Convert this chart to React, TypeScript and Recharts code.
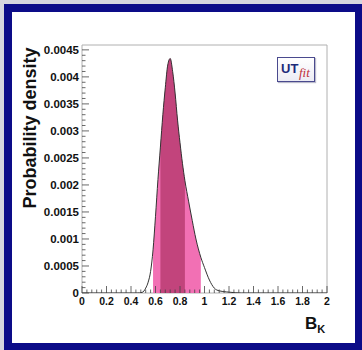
import React from "react";
import { ComposedChart, Area, Line, XAxis, YAxis, ReferenceArea } from "recharts";

// B_K values and probability density
const bkValues = [0, 0.45, 0.49, 0.52, 0.54, 0.56, 0.58, 0.6, 0.62, 0.64, 0.66, 0.68, 0.7, 0.72, 0.74, 0.76, 0.78, 0.8, 0.82, 0.84, 0.87, 0.9, 0.93, 0.97, 1.0, 1.04, 1.08, 1.12, 1.18, 1.25, 1.3, 2];
const density = [0, 0, 0.00001, 0.00009, 0.0002, 0.0004, 0.0008, 0.00142, 0.0021, 0.0027, 0.0033, 0.0038, 0.00422, 0.00434, 0.0041, 0.0037, 0.0032, 0.00278, 0.0024, 0.00208, 0.0017, 0.00134, 0.001, 0.00066, 0.00047, 0.00024, 0.00009, 0.00004, 0.00002, 0.000005, 0, 0];

// 95% (light) and 68% (dark) intervals
const lightBand = [0.58, 0.97];
const darkBand = [0.64, 0.84];

const xMajorTicks = [0, 0.2, 0.4, 0.6, 0.8, 1, 1.2, 1.4, 1.6, 1.8, 2];
const xTickLabels = ["0", "0.2", "0.4", "0.6", "0.8", "1", "1.2", "1.4", "1.6", "1.8", "2"];
const yMajorTicks = [0, 0.0005, 0.001, 0.0015, 0.002, 0.0025, 0.003, 0.0035, 0.004, 0.0045];
const yTickLabels = ["0", "0.0005", "0.001", "0.0015", "0.002", "0.0025", "0.003", "0.0035", "0.004", "0.0045"];

const Y_MAX = 0.00459;

const inBand = (v: number, band: number[]) => v >= band[0] - 1e-9 && v <= band[1] + 1e-9;

const data = bkValues.map((bk, i) => ({
  bk,
  density: density[i],
  light: inBand(bk, lightBand) ? density[i] : null,
  dark: inBand(bk, darkBand) ? density[i] : null,
}));

// ROOT style: minor ticks between the labelled ones
const xAllTicks: number[] = [];
for (let i = 0; i <= 50; i++) xAllTicks.push(Math.round(i * 4) / 100);
const yAllTicks: number[] = [];
for (let i = 0; i <= 45; i++) yAllTicks.push(Math.round(i) / 10000);

const font = "'Liberation Sans', Arial, sans-serif";

const XTick = (props: any) => {
  const { x, y, payload } = props;
  const idx = xMajorTicks.findIndex((t) => Math.abs(t - payload.value) < 1e-6);
  const major = idx >= 0;
  return (
    <g>
      <line x1={x} x2={x} y1={y} y2={y - (major ? 7 : 3.5)} stroke="#444" strokeWidth={0.8} />
      {major && (
        <text x={x} y={y + 12} textAnchor="middle" fontSize={10.5} fontWeight="bold" fontFamily={font} fill="#111">
          {xTickLabels[idx]}
        </text>
      )}
    </g>
  );
};

const YTick = (props: any) => {
  const { x, y, payload } = props;
  const idx = yMajorTicks.findIndex((t) => Math.abs(t - payload.value) < 1e-9);
  const major = idx >= 0;
  return (
    <g>
      <line x1={x} x2={x + (major ? 7 : 3.5)} y1={y} y2={y} stroke="#444" strokeWidth={0.8} />
      {major && (
        <text x={x - 3} y={y + 4} textAnchor="end" fontSize={11.5} fontWeight="bold" fontFamily={font} fill="#111">
          {yTickLabels[idx]}
        </text>
      )}
    </g>
  );
};

export default function App() {
  return (
    <div style={{ position: "absolute", left: 0, top: 0, width: 362, height: 350, background: "#d6d6de", overflow: "hidden" }}>
      <div style={{ position: "absolute", left: 4, top: 4, width: 358, height: 346, background: "#0c0c88" }} />
      <div style={{ position: "absolute", left: 12, top: 12, width: 343, height: 331, background: "#ffffff" }} />
      <div style={{ position: "absolute", left: 0, top: 0 }}>
        <ComposedChart width={362} height={350} data={data} margin={{ top: 45, right: 35, bottom: 37, left: 0 }}>
          <ReferenceArea x1={0} x2={2} y1={0} y2={Y_MAX} fill="none" stroke="#b0b0b0" strokeWidth={1} ifOverflow="visible" />
          <Area type="monotone" dataKey="light" stroke="none" fill="#f270b4" fillOpacity={1} isAnimationActive={false} connectNulls={false} />
          <Area type="monotone" dataKey="dark" stroke="none" fill="#c2447c" fillOpacity={1} isAnimationActive={false} connectNulls={false} />
          <Line type="monotone" dataKey="density" stroke="#333" strokeWidth={1} dot={false} isAnimationActive={false} />
          <XAxis
            type="number"
            dataKey="bk"
            domain={[0, 2]}
            ticks={xAllTicks}
            interval={0}
            tickSize={0}
            tickMargin={0}
            axisLine={false}
            tickLine={false}
            tick={XTick}
            height={20}
            allowDataOverflow
          />
          <YAxis
            type="number"
            domain={[0, Y_MAX]}
            ticks={yAllTicks}
            interval={0}
            tickSize={0}
            tickMargin={0}
            axisLine={false}
            tickLine={false}
            tick={YTick}
            width={82}
            allowDataOverflow
          />
        </ComposedChart>
      </div>
      <div
        style={{
          position: "absolute",
          left: 30,
          top: 128,
          transform: "translate(-50%, -50%) rotate(-90deg)",
          whiteSpace: "nowrap",
          fontFamily: font,
          fontWeight: "bold",
          fontSize: 18,
          color: "#111",
        }}
      >
        Probability density
      </div>
      <div style={{ position: "absolute", left: 305, top: 314, fontFamily: font, fontWeight: "bold", fontSize: 17, color: "#111", whiteSpace: "nowrap" }}>
        B<span style={{ fontSize: 11, position: "relative", top: 4 }}>K</span>
      </div>
      <div
        style={{
          position: "absolute",
          left: 277,
          top: 57,
          width: 36,
          height: 23,
          border: "1px solid #4a4a8e",
          background: "linear-gradient(#ffffff, #ececf4)",
          boxShadow: "1px 1px 1px #bbbbcc",
          whiteSpace: "nowrap",
          fontFamily: font,
        }}
      >
        <span style={{ position: "absolute", left: 3, top: 3, fontWeight: "bold", fontSize: 13, color: "#1c2a7a" }}>UT</span>
        <span style={{ position: "absolute", left: 21, top: 7, fontStyle: "italic", fontFamily: "'Liberation Serif', serif", fontSize: 13, color: "#c0303c" }}>fit</span>
      </div>
    </div>
  );
}
